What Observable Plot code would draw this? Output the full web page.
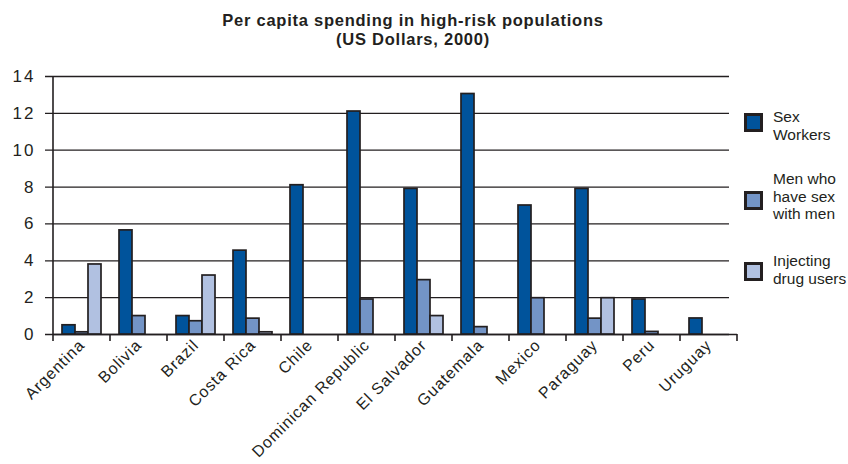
<!DOCTYPE html>
<html><head><meta charset="utf-8">
<script src="https://cdn.jsdelivr.net/npm/d3@7"></script>
<script src="https://cdn.jsdelivr.net/npm/@observablehq/plot@0.6"></script>
<style>
body{margin:0;background:#fff;font-family:"Liberation Sans",Arial,sans-serif;color:#231f20}
#wrap{position:relative;width:848px;height:464px;overflow:hidden}
#title{height:58px;box-sizing:border-box;padding-top:11px;width:826px;text-align:center;font-weight:bold;font-size:16.5px;line-height:19px;letter-spacing:0.75px}
#chart svg{display:block}
#chart svg g[aria-label="y-axis tick label"]{font-size:17px;letter-spacing:2px}
#chart svg g[aria-label="fx-axis tick label"]{font-size:16px;letter-spacing:0.9px}
.sq{position:absolute;width:13px;height:13px;border:3px solid #231f20;box-sizing:content-box}
.lab{position:absolute;font-size:15.5px;line-height:17.5px;white-space:nowrap;left:773px}
</style></head>
<body>
<div id="wrap">
  <div id="title"></div>
  <div id="chart"></div>
  <div id="legend"></div>
</div>
<script>
const titleLines = ["Per capita spending in high-risk populations", "(US Dollars, 2000)"];
const countries = ["Argentina","Bolivia","Brazil","Costa Rica","Chile","Dominican Republic","El Salvador","Guatemala","Mexico","Paraguay","Peru","Uruguay"];
const seriesNames = ["Sex Workers","Men who have sex with men","Injecting drug users"];
const legendLines = [["Sex","Workers"],["Men who","have sex","with men"],["Injecting","drug users"]];
const sexWorkers = [0.5, 5.65, 1.0, 4.55, 8.1, 12.1, 7.9, 13.05, 7.0, 7.9, 1.9, 0.87];
const menWithMen = [0.12, 1.0, 0.72, 0.86, 0, 1.9, 2.95, 0.4, 1.97, 0.86, 0.14, 0];
const injectingDrugUsers = [3.8, 0, 3.2, 0.12, 0, 0, 1.0, 0, 0, 1.97, 0, 0];
const colors = ["#00539b","#7394c6","#b1c1e1"];
const yTicks = [0,2,4,6,8,10,12,14];

document.getElementById("title").innerHTML = titleLines.join("<br>");

const seriesValues = [sexWorkers, menWithMen, injectingDrugUsers];
const rows = [];
countries.forEach((c, i) => {
  seriesValues.forEach((arr, j) => {
    if (arr[i] > 0) rows.push({country: c, series: seriesNames[j], value: arr[i]});
  });
});

const ink = "#231f20";
const plot = Plot.plot({
  width: 848, height: 406,
  marginLeft: 53, marginRight: 111, marginTop: 18, marginBottom: 130,
  style: {fontFamily: '"Liberation Sans", Arial, sans-serif', fontSize: "15px", color: ink, background: "transparent"},
  fx: {domain: countries, padding: 0, label: null, axis: "bottom", tickSize: 0, tickRotate: -45, tickPadding: 8},
  x: {domain: seriesNames, axis: null, paddingInner: 0, paddingOuter: 0.6},
  y: {domain: [0, 14], ticks: yTicks, label: null, tickSize: 0, tickPadding: 18},
  color: {domain: seriesNames, range: colors},
  marks: [
    Plot.gridY(yTicks, {stroke: ink, strokeOpacity: 1, strokeWidth: 1.3, dx: -8}),
    Plot.ruleY([0], {stroke: ink, strokeWidth: 1.6}),
    Plot.barY(rows, {fx: "country", x: "series", y: "value", fill: "series", stroke: ink, strokeWidth: 1.7})
  ]
});
document.getElementById("chart").appendChild(plot);

// axis line and category boundary ticks, from the library's scales
const fxs = plot.scale("fx"), ys = plot.scale("y");
const svg = d3.select(plot.tagName.toLowerCase() === "svg" ? plot : plot.querySelector("svg"));
const g = svg.append("g").attr("stroke", ink).attr("stroke-width", 1.6);
const y0 = ys.apply(0), yTop = ys.apply(yTicks[yTicks.length - 1]);
const xStart = fxs.apply(countries[0]);
g.append("line").attr("x1", xStart).attr("x2", xStart).attr("y1", yTop).attr("y2", y0 + 7);
countries.forEach(c => {
  const xr = fxs.apply(c) + fxs.bandwidth;
  g.append("line").attr("x1", xr).attr("x2", xr).attr("y1", y0).attr("y2", y0 + 7);
});

// legend
const sqTops = [113, 191, 262];
const labTops = [108, 170, 252];
const leg = document.getElementById("legend");
seriesNames.forEach((s, i) => {
  const sq = document.createElement("div");
  sq.className = "sq";
  sq.style.left = "744px";
  sq.style.top = sqTops[i] + "px";
  sq.style.background = colors[i];
  leg.appendChild(sq);
  const lab = document.createElement("div");
  lab.className = "lab";
  lab.style.top = labTops[i] + "px";
  lab.innerHTML = legendLines[i].join("<br>");
  leg.appendChild(lab);
});
</script>
</body></html>
